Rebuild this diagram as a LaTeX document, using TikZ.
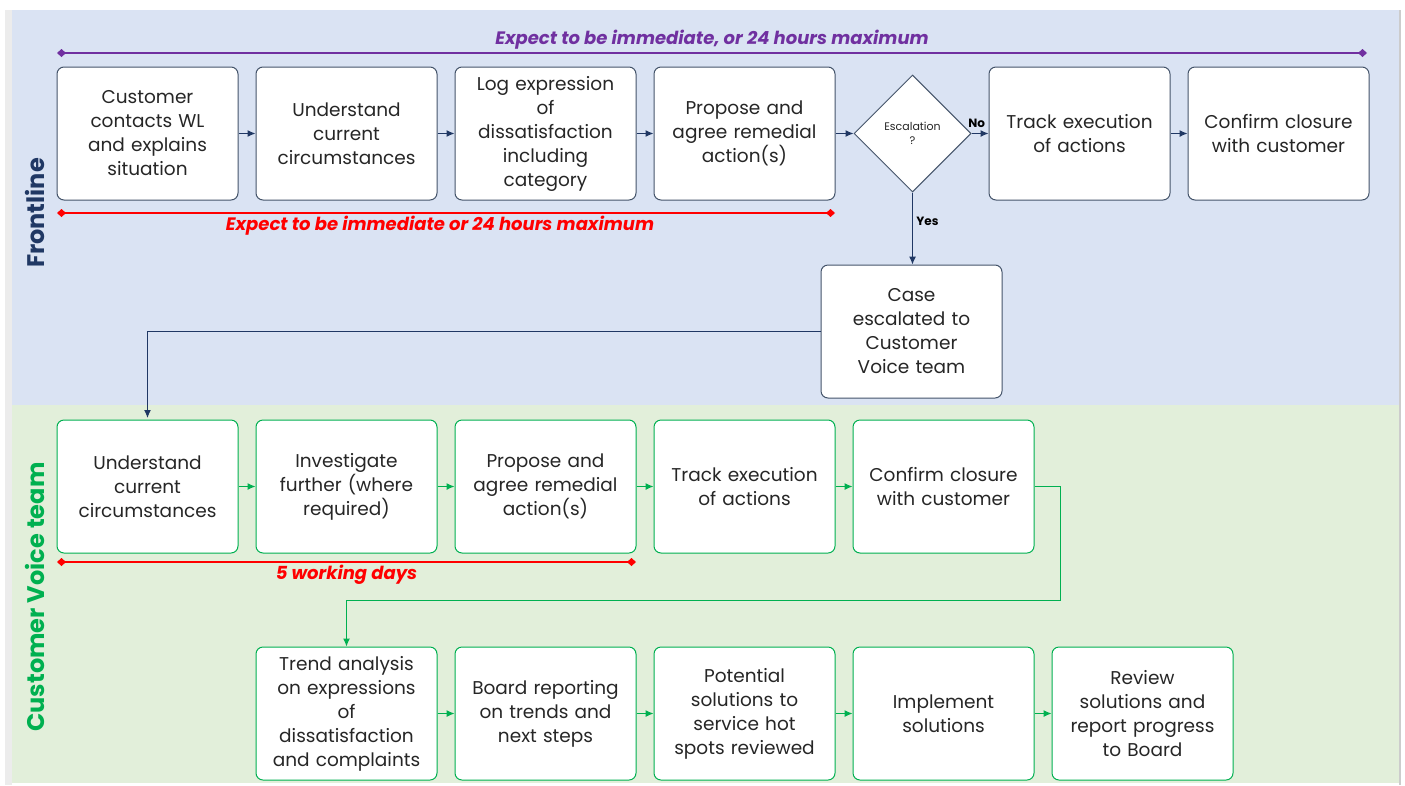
\documentclass[tikz,border=0pt]{standalone}
\usepackage{fontspec}
\setmainfont{Poppins}
\usetikzlibrary{shapes.geometric, positioning, arrows, arrows.meta}
\definecolor{laneblue}{HTML}{DAE3F3}
\definecolor{lanegreen}{HTML}{E2EFDA}
\definecolor{navy}{HTML}{203864}
\definecolor{boxblue}{HTML}{44546A}
\definecolor{cvgreen}{HTML}{00B050}
\definecolor{rangered}{HTML}{FF0000}
\definecolor{rangepurple}{HTML}{7030A0}
\tikzset{
    >={Latex[length=8pt, width=7pt]}, % filled arrow heads
    node distance=199pt, % pitch between boxes in a row
    stepbox/.style={draw=boxblue, fill=white, rounded corners=7pt, line width=1pt,
        minimum width=181pt, minimum height=133pt, text width=172pt, align=center,
        text=black!85, font=\fontsize{18.5}{24}\selectfont},
    cvbox/.style={stepbox, draw=cvgreen},
    flow/.style={->, draw=navy, line width=1pt},
    cvflow/.style={->, draw=cvgreen, line width=1pt},
    timespan/.style={{Diamond[length=9pt, width=8pt]}-{Diamond[length=9pt, width=8pt]}, line width=2pt},
    spantext/.style={font=\fontsize{18}{22}\selectfont\bfseries\itshape},
    lanetext/.style={rotate=90, font=\fontsize{24}{26}\selectfont\bfseries},
}
\begin{document}
\begin{tikzpicture}[x=1pt, y=-1pt]
    \useasboundingbox (0,0) rectangle (1405,785);
    % lanes
    \fill[gray!15] (5,10) rectangle (12,785);
    \fill[laneblue] (12,10) rectangle (1400,405);
    \fill[lanegreen] (12,405) rectangle (1400,783);
    \draw[gray!40, line width=1.5pt] (1400,10) -- (1400,785);
    \node[lanetext, text=navy] (laneF) at (35,213) {Frontline};
    \node[lanetext, text=cvgreen] (laneC) at (35,597) {Customer Voice team};

    % frontline
    \node[stepbox] (f1) at (147.5,133.5) {Customer\\contacts WL\\and explains\\situation};
    \node[stepbox, right of=f1] (f2) {Understand\\current\\circumstances};
    \node[stepbox, right of=f2] (f3) {Log expression\\of\\dissatisfaction\\including\\category};
    \node[stepbox, right of=f3] (f4) {Propose and\\agree remedial\\action(s)};
    \node[diamond, draw=boxblue, fill=white, line width=1pt, minimum width=117pt, minimum height=117pt,
        inner sep=0pt, align=center, font=\fontsize{11}{14}\selectfont, text=black!85,
        right of=f4, node distance=168pt] (esc) {Escalation\\?};
    \node[stepbox, right of=esc, node distance=167pt] (f5) {Track execution\\of actions};
    \node[stepbox, right of=f5] (f6) {Confirm closure\\with customer};
    \node[stepbox] (case) at (911.5,331.5) {Case\\escalated to\\Customer\\Voice team};

    \draw[flow] (f1) -- (f2);
    \draw[flow] (f2) -- (f3);
    \draw[flow] (f3) -- (f4);
    \draw[flow] (f4) -- (esc);
    \draw[flow] (esc) -- node[above, pos=0.3, yshift=2pt, font=\fontsize{12}{14}\selectfont\bfseries] {No} (f5);
    \draw[flow] (f5) -- (f6);
    \draw[flow] (esc) -- node[right, pos=0.4, font=\fontsize{12}{14}\selectfont\bfseries] {Yes} (esc |- case.north);
    \draw[flow] (case.west) -| (147.5,418);

    % time spans
    \coordinate (topL) at (57,53);
    \coordinate (topR) at (1367,53);
    \draw[timespan, rangepurple] (topL) -- node[above, spantext, text=rangepurple, inner sep=3pt] {Expect to be immediate, or 24 hours maximum} (topR);
    \coordinate (frL) at (57,213);
    \coordinate (frR) at (835,213);
    \draw[timespan, rangered] (frL) -- node[below, spantext, text=rangered, inner sep=2pt, xshift=-6pt] {Expect to be immediate or 24 hours maximum} (frR);

    % customer voice team
    \node[cvbox] (c1) at (147.5,486.5) {Understand\\current\\circumstances};
    \node[cvbox, right of=c1] (c2) {Investigate\\further (where\\required)};
    \node[cvbox, right of=c2] (c3) {Propose and\\agree remedial\\action(s)};
    \node[cvbox, right of=c3] (c4) {Track execution\\of actions};
    \node[cvbox, right of=c4] (c5) {Confirm closure\\with customer};
    \node[cvbox] (t1) at (346.5,713.5) {Trend analysis\\on expressions\\of\\dissatisfaction\\and complaints};
    \node[cvbox, right of=t1] (t2) {Board reporting\\on trends and\\next steps};
    \node[cvbox, right of=t2] (t3) {Potential\\solutions to\\service hot\\spots reviewed};
    \node[cvbox, right of=t3] (t4) {Implement\\solutions};
    \node[cvbox, right of=t4] (t5) {Review\\solutions and\\report progress\\to Board};

    \draw[cvflow] (c1) -- (c2);
    \draw[cvflow] (c2) -- (c3);
    \draw[cvflow] (c3) -- (c4);
    \draw[cvflow] (c4) -- (c5);
    \coordinate (bendR) at (1060,600);
    \draw[cvflow] (c5.east) -| (bendR) -| (t1.north);
    \draw[cvflow] (t1) -- (t2);
    \draw[cvflow] (t2) -- (t3);
    \draw[cvflow] (t3) -- (t4);
    \draw[cvflow] (t4) -- (t5);

    \coordinate (cvL) at (57,562);
    \coordinate (cvR) at (636,562);
    \draw[timespan, rangered] (cvL) -- node[below, spantext, text=rangered, inner sep=2pt] {5 working days} (cvR);
\end{tikzpicture}
\end{document}
